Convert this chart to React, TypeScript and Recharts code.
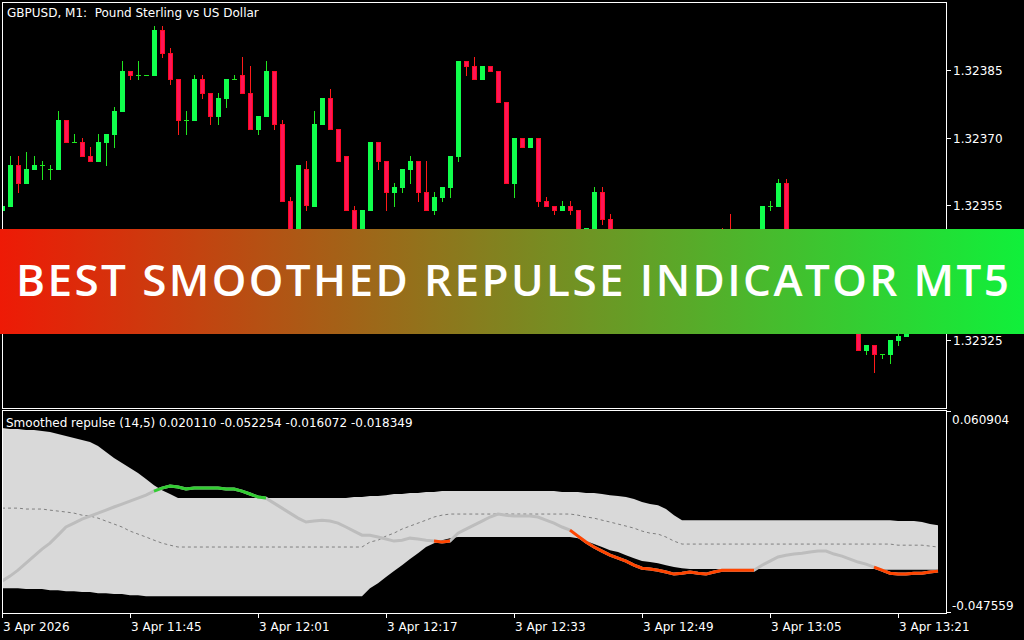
import { ComposedChart, Bar, Line, Area, XAxis, YAxis } from 'recharts';

// GBPUSD M1 bars, one per minute from the left edge of the chart
const OPEN = [
  1.32354, 1.32355, 1.32364, 1.3236, 1.32363, 1.32364, 1.32363, 1.32363, 1.32374, 1.32369,
  1.32369, 1.32366, 1.32365, 1.32369, 1.32371, 1.32376, 1.32385, 1.32384, 1.32384, 1.32384,
  1.32394, 1.32389, 1.32383, 1.32374, 1.32374, 1.32383, 1.3238, 1.32375, 1.32379, 1.32383,
  1.32384, 1.3238, 1.32372, 1.32375, 1.32385, 1.32373, 1.32356, 1.32342, 1.32363, 1.32355,
  1.32373, 1.32379, 1.32372, 1.32366, 1.32354, 1.32347, 1.32354, 1.32369, 1.32365, 1.32358,
  1.32359, 1.32363, 1.32365, 1.32358, 1.32354, 1.32357, 1.32359, 1.32366, 1.32387, 1.32386,
  1.32383, 1.32386, 1.32385, 1.32378, 1.3236, 1.3237, 1.32368, 1.3237, 1.32356, 1.32355,
  1.32354, 1.32355, 1.32354, 1.32344, 1.3235, 1.32358, 1.32352, 1.32345, 1.3234, 1.32337,
  1.32339, 1.32335, 1.32333, 1.32334, 1.32332, 1.32333, 1.32331, 1.32334, 1.32337, 1.32342,
  1.32344, 1.32341, 1.32338, 1.32342, 1.3234, 1.32345, 1.32355, 1.32355, 1.3236, 1.32343,
  1.32338, 1.3234, 1.32335, 1.32332, 1.32334, 1.3233, 1.32331, 1.32328, 1.32323, 1.32324,
  1.32322, 1.32322, 1.32325, 1.32326, 1.32328, 1.3233, 1.32329, 1.32331,
];
const HIGH = [
  1.32355, 1.32366, 1.32366, 1.32367, 1.32366, 1.32365, 1.32364, 1.32376, 1.32374, 1.32371,
  1.3237, 1.32368, 1.32371, 1.32371, 1.32377, 1.32387, 1.32385, 1.32387, 1.32384, 1.32395,
  1.32395, 1.3239, 1.32383, 1.32376, 1.32384, 1.32384, 1.3238, 1.3238, 1.32383, 1.32384,
  1.32388, 1.32386, 1.32375, 1.32387, 1.32385, 1.32374, 1.32357, 1.32364, 1.32365, 1.32376,
  1.32379, 1.32381, 1.32372, 1.32366, 1.32355, 1.32354, 1.32369, 1.32369, 1.32365, 1.3236,
  1.32363, 1.32366, 1.32365, 1.32365, 1.32358, 1.32359, 1.32366, 1.32387, 1.32387, 1.32388,
  1.32386, 1.32386, 1.32385, 1.32378, 1.3237, 1.3237, 1.3237, 1.3237, 1.32357, 1.32355,
  1.32356, 1.32356, 1.32354, 1.3235, 1.32359, 1.32359, 1.32353, 1.32346, 1.32341, 1.3234,
  1.32339, 1.32336, 1.32335, 1.32334, 1.32334, 1.32334, 1.32334, 1.32338, 1.32343, 1.32346,
  1.3235, 1.32353, 1.32343, 1.32344, 1.32346, 1.32355, 1.32356, 1.32361, 1.32361, 1.32345,
  1.32341, 1.32342, 1.32336, 1.32335, 1.32334, 1.32332, 1.32332, 1.32329, 1.32324, 1.32324,
  1.32322, 1.32325, 1.32327, 1.32328, 1.32331, 1.32331, 1.32332, 1.32331,
];
const LOW = [
  1.32353, 1.32355, 1.32358, 1.3236, 1.32363, 1.32361, 1.32361, 1.32363, 1.32369, 1.32369,
  1.32366, 1.32365, 1.32365, 1.32364, 1.32368, 1.32376, 1.32383, 1.32383, 1.32384, 1.32384,
  1.32388, 1.32382, 1.32371, 1.32371, 1.32374, 1.32379, 1.32373, 1.32373, 1.32377, 1.32383,
  1.3238, 1.32372, 1.32371, 1.32375, 1.32372, 1.32356, 1.32344, 1.32341, 1.32354, 1.32355,
  1.32373, 1.32372, 1.32365, 1.32354, 1.32346, 1.32346, 1.32354, 1.32363, 1.32354, 1.32355,
  1.32358, 1.3236, 1.32356, 1.32354, 1.32353, 1.32356, 1.32357, 1.32365, 1.32384, 1.32383,
  1.32383, 1.32385, 1.32378, 1.3236, 1.32357, 1.32368, 1.32368, 1.32355, 1.32355, 1.32353,
  1.32354, 1.32353, 1.32347, 1.32343, 1.32349, 1.32351, 1.32344, 1.32339, 1.32336, 1.32336,
  1.32334, 1.32332, 1.32332, 1.32331, 1.32331, 1.3233, 1.3233, 1.32333, 1.32336, 1.32341,
  1.3234, 1.32337, 1.32337, 1.32339, 1.32339, 1.32344, 1.32354, 1.32355, 1.32342, 1.32337,
  1.32336, 1.32334, 1.32331, 1.3233, 1.32329, 1.32329, 1.32328, 1.32323, 1.32322, 1.32318,
  1.32321, 1.3232, 1.32324, 1.32326, 1.32327, 1.32328, 1.32328, 1.32329,
];
const CLOSE = [
  1.32355, 1.32364, 1.3236, 1.32363, 1.32364, 1.32364, 1.32363, 1.32374, 1.32369, 1.32369,
  1.32366, 1.32365, 1.32369, 1.32371, 1.32376, 1.32385, 1.32384, 1.32384, 1.32384, 1.32394,
  1.32389, 1.32383, 1.32374, 1.32374, 1.32383, 1.3238, 1.32375, 1.32379, 1.32383, 1.32383,
  1.3238, 1.32372, 1.32375, 1.32385, 1.32373, 1.32356, 1.32345, 1.32364, 1.32355, 1.32373,
  1.32379, 1.32372, 1.32365, 1.32354, 1.32347, 1.32354, 1.32369, 1.32365, 1.32358, 1.32359,
  1.32363, 1.32365, 1.32358, 1.32354, 1.32357, 1.32359, 1.32366, 1.32387, 1.32386, 1.32383,
  1.32386, 1.32385, 1.32378, 1.3236, 1.3237, 1.32368, 1.3237, 1.32356, 1.32355, 1.32354,
  1.32355, 1.32354, 1.32348, 1.3235, 1.32358, 1.32352, 1.32345, 1.3234, 1.32337, 1.32339,
  1.32335, 1.32333, 1.32334, 1.32332, 1.32333, 1.32331, 1.32334, 1.32337, 1.32342, 1.32344,
  1.32341, 1.32338, 1.32342, 1.3234, 1.32345, 1.32355, 1.32355, 1.3236, 1.32343, 1.32338,
  1.3234, 1.32335, 1.32332, 1.32334, 1.3233, 1.32331, 1.32328, 1.32323, 1.32324, 1.32322,
  1.32322, 1.32325, 1.32326, 1.32328, 1.3233, 1.32329, 1.32331, 1.3233,
];

// Smoothed repulse (14,5): main line, band edges and the dashed middle
const REP_LINE = [
  -0.0309, -0.0282, -0.025, -0.0212, -0.0174, -0.0136, -0.0104, -0.0061, -0.0017, 0.0004,
  0.0026, 0.0042, 0.0058, 0.0074, 0.0091, 0.0107, 0.0123, 0.0139, 0.0155, 0.0177,
  0.0193, 0.0204, 0.0199, 0.0188, 0.0193, 0.0193, 0.0193, 0.0193, 0.0188, 0.0188,
  0.0177, 0.0161, 0.0145, 0.0139, 0.0112, 0.0085, 0.0058, 0.0031, 0.001, 0.0015,
  0.002, 0.0015, 0.0004, -0.0017, -0.0039, -0.0061, -0.0061, -0.0071, -0.0082, -0.0093,
  -0.0088, -0.0077, -0.0082, -0.0088, -0.0093, -0.0098, -0.0093, -0.005, -0.0028, -0.0007,
  0.0015, 0.0037, 0.0053, 0.0047, 0.0042, 0.0042, 0.0042, 0.0037, 0.002, 0.0004,
  -0.0017, -0.0034, -0.0066, -0.0098, -0.0125, -0.0147, -0.0169, -0.0185, -0.0201, -0.0223,
  -0.0239, -0.0244, -0.025, -0.026, -0.0271, -0.0266, -0.026, -0.0266, -0.0271, -0.026,
  -0.025, -0.025, -0.025, -0.025, -0.025, -0.0223, -0.0201, -0.0179, -0.0169, -0.0163,
  -0.0158, -0.0152, -0.0147, -0.0147, -0.0163, -0.0174, -0.019, -0.0206, -0.0217, -0.0233,
  -0.025, -0.0266, -0.0271, -0.0271, -0.0266, -0.0266, -0.026, -0.0255,
];
const REP_UPPER = [
  0.0517, 0.0512, 0.0512, 0.0506, 0.0506, 0.0501, 0.0496, 0.0485, 0.0474, 0.0463,
  0.0452, 0.0442, 0.042, 0.0388, 0.0355, 0.0328, 0.0301, 0.0274, 0.0242, 0.0209,
  0.0182, 0.0161, 0.0139, 0.0139, 0.0139, 0.0139, 0.0139, 0.0139, 0.0139, 0.0139,
  0.0139, 0.0139, 0.0139, 0.0139, 0.0139, 0.0139, 0.0139, 0.0139, 0.0139, 0.0139,
  0.0139, 0.0139, 0.0139, 0.0139, 0.0145, 0.0145, 0.015, 0.015, 0.0155, 0.0161,
  0.0161, 0.0166, 0.0166, 0.0172, 0.0172, 0.0177, 0.0177, 0.0177, 0.0177, 0.0177,
  0.0177, 0.0177, 0.0177, 0.0177, 0.0177, 0.0177, 0.0177, 0.0177, 0.0177, 0.0177,
  0.0172, 0.0172, 0.0172, 0.0166, 0.0166, 0.0161, 0.0155, 0.015, 0.0145, 0.0134,
  0.0118, 0.0107, 0.0101, 0.008, 0.0047, 0.002, 0.002, 0.002, 0.002, 0.002,
  0.002, 0.002, 0.002, 0.002, 0.002, 0.002, 0.002, 0.002, 0.002, 0.002,
  0.002, 0.002, 0.002, 0.002, 0.002, 0.002, 0.002, 0.002, 0.002, 0.002,
  0.002, 0.002, 0.0015, 0.0015, 0.0015, 0.001, -0.0001, -0.0007,
];
const REP_LOWER = [
  -0.0347, -0.0347, -0.0347, -0.0352, -0.0352, -0.0352, -0.0358, -0.0358, -0.0363, -0.0363,
  -0.0368, -0.0368, -0.0374, -0.0374, -0.0379, -0.0379, -0.0385, -0.0385, -0.039, -0.039,
  -0.039, -0.039, -0.039, -0.039, -0.039, -0.039, -0.039, -0.039, -0.039, -0.039,
  -0.039, -0.039, -0.039, -0.039, -0.039, -0.039, -0.039, -0.039, -0.039, -0.039,
  -0.039, -0.039, -0.039, -0.039, -0.039, -0.039, -0.0347, -0.032, -0.0287, -0.0255,
  -0.0223, -0.019, -0.0158, -0.0125, -0.0104, -0.0088, -0.0077, -0.0071, -0.0071, -0.0071,
  -0.0071, -0.0071, -0.0071, -0.0071, -0.0071, -0.0071, -0.0071, -0.0071, -0.0071, -0.0071,
  -0.0071, -0.0071, -0.0077, -0.0093, -0.0109, -0.0125, -0.0142, -0.0152, -0.0169, -0.0185,
  -0.0201, -0.0206, -0.0212, -0.0223, -0.0233, -0.0239, -0.0244, -0.0244, -0.0244, -0.0244,
  -0.0244, -0.0244, -0.0244, -0.0244, -0.0244, -0.0244, -0.0244, -0.0244, -0.0244, -0.0244,
  -0.0244, -0.0244, -0.0244, -0.0244, -0.0244, -0.0244, -0.0244, -0.0244, -0.0244, -0.0244,
  -0.0247, -0.0247, -0.0247, -0.0247, -0.0247, -0.0247, -0.0247, -0.0247,
];
const REP_MID = [
  0.0085, 0.0085, 0.0085, 0.008, 0.008, 0.008, 0.0074, 0.0069, 0.0064, 0.0058,
  0.0047, 0.0042, 0.0031, 0.0015, -0.0001, -0.0017, -0.0039, -0.0055, -0.0071, -0.0088,
  -0.0104, -0.0115, -0.0125, -0.0125, -0.0125, -0.0125, -0.0125, -0.0125, -0.0125, -0.0125,
  -0.0125, -0.0125, -0.0125, -0.0125, -0.0125, -0.0125, -0.0125, -0.0125, -0.0125, -0.0125,
  -0.0125, -0.0125, -0.0125, -0.0125, -0.0125, -0.0125, -0.0098, -0.0088, -0.0066, -0.005,
  -0.0028, -0.0012, 0.0004, 0.002, 0.0037, 0.0047, 0.0053, 0.0053, 0.0053, 0.0053,
  0.0053, 0.0053, 0.0053, 0.0053, 0.0053, 0.0053, 0.0053, 0.0053, 0.0053, 0.0053,
  0.0053, 0.0053, 0.0047, 0.0037, 0.0031, 0.002, 0.001, -0.0001, -0.0012, -0.0023,
  -0.0039, -0.005, -0.0055, -0.0071, -0.0093, -0.0109, -0.0109, -0.0109, -0.0109, -0.0109,
  -0.0109, -0.0109, -0.0109, -0.0109, -0.0109, -0.0109, -0.0109, -0.0109, -0.0109, -0.0109,
  -0.0109, -0.0109, -0.0109, -0.0109, -0.0109, -0.0109, -0.0109, -0.0109, -0.0109, -0.0109,
  -0.0109, -0.0109, -0.0115, -0.0115, -0.0115, -0.0115, -0.012, -0.0125,
];

// bars where the line is painted green (above band) / orange-red (below band)
const GREEN_SPANS = [[19, 33]];
const RED_SPANS = [[54, 56], [71, 94], [109, 117]];

const PRICE_MIN = 1.3231;
const PRICE_MAX = 1.324;
// 1.32340 sits under the banner in the reference, so it is left out
const PRICE_TICKS = [1.32325, 1.32355, 1.3237, 1.32385];

const REP_MIN = -0.047559;
const REP_MAX = 0.060904;

const TIME_TICKS = [0, 16, 32, 48, 64, 80, 96, 112];
const TIME_LABELS = [
  '3 Apr 2026',
  '3 Apr 11:45',
  '3 Apr 12:01',
  '3 Apr 12:17',
  '3 Apr 12:33',
  '3 Apr 12:49',
  '3 Apr 13:05',
  '3 Apr 13:21',
];

const FONT = '"DejaVu Sans", sans-serif';
const BULL_BODY = '#10ff4c';
const BULL_WICK = '#20e620';
const BEAR_BODY = '#ff1457';
const BEAR_EDGE = '#ff0a24';
const BEAR_WICK = '#ff1a1a';

const candles = OPEN.map((o, i) => ({
  i,
  o,
  h: HIGH[i],
  l: LOW[i],
  c: CLOSE[i],
  range: [LOW[i], HIGH[i]],
}));

const inSpan = (spans: number[][], i: number) =>
  spans.some(([a, b]) => i >= a && i <= b);

const repulse = REP_LINE.map((v, i) => ({
  i,
  v,
  mid: REP_MID[i],
  band: [REP_LOWER[i], REP_UPPER[i]],
  up: inSpan(GREEN_SPANS, i) ? v : null,
  down: inSpan(RED_SPANS, i) ? v : null,
}));

function Candle(props: any) {
  const { x, y, width, height, payload } = props;
  const { o, h, l, c } = payload;
  const cx = Math.floor(x + width / 2);
  const k = h > l ? height / (h - l) : 0;
  const py = (v: number) => Math.round(y + (h - v) * k);
  const bull = c >= o;
  const wick = bull ? BULL_WICK : BEAR_WICK;
  const top = py(Math.max(o, c));
  const bot = py(Math.min(o, c));
  const hi = py(h);
  const lo = py(l);
  const bodyH = bot - top;

  return (
    <g shapeRendering="crispEdges">
      <rect x={cx} y={hi} width={1} height={Math.max(1, lo - hi + 1)} fill={wick} />
      {bodyH < 1 ? (
        <rect x={cx - 2} y={top} width={5} height={1} fill={wick} />
      ) : bull ? (
        <rect x={cx - 2} y={top} width={5} height={bodyH + 1} fill={BULL_BODY} />
      ) : (
        <>
          <rect x={cx - 2} y={top} width={5} height={bodyH + 1} fill={BEAR_EDGE} />
          {bodyH > 1 && (
            <rect x={cx - 1} y={top + 1} width={3} height={bodyH - 1} fill={BEAR_BODY} />
          )}
        </>
      )}
    </g>
  );
}

function PriceTick(props: any) {
  const { x, y, payload } = props;
  return (
    <g>
      <line x1={x + 4} x2={x + 9} y1={y} y2={y} stroke="#fff" shapeRendering="crispEdges" />
      <text x={x + 11} y={y + 4.5} fill="#fff" fontSize={12} fontFamily={FONT}>
        {Number(payload.value).toFixed(5)}
      </text>
    </g>
  );
}

function RepTick(props: any) {
  const { x, y, payload } = props;
  const atTop = Math.abs(payload.value - REP_MAX) < 1e-9;
  return (
    <g>
      <line x1={x + 4} x2={x + 9} y1={y} y2={y} stroke="#fff" shapeRendering="crispEdges" />
      <text x={x + 10} y={atTop ? y + 13 : y - 2} fill="#fff" fontSize={12} fontFamily={FONT}>
        {Number(payload.value).toFixed(6)}
      </text>
    </g>
  );
}

function TimeTick(props: any) {
  const { x, y, payload } = props;
  const label = TIME_LABELS[TIME_TICKS.indexOf(Number(payload.value))];
  const lx = Math.floor(x) + 0.5;
  return (
    <g>
      <line x1={lx} x2={lx} y1={y + 2} y2={y + 6} stroke="#fff" shapeRendering="crispEdges" />
      <text x={x + 1} y={y + 18.5} fill="#fff" fontSize={12} fontFamily={FONT}>
        {label}
      </text>
    </g>
  );
}

export default function App() {
  return (
    <div
      style={{
        position: 'absolute',
        left: 0,
        top: 0,
        width: 1024,
        height: 640,
        background: '#000',
        overflow: 'hidden',
        fontFamily: FONT,
      }}
    >
      <div style={{ position: 'absolute', left: 0, top: 0 }}>
        <ComposedChart
          width={1024}
          height={410}
          data={candles}
          margin={{ top: 3, right: 0, bottom: 2, left: -2 }}
        >
          <XAxis dataKey="i" type="category" scale="band" hide />
          <YAxis
            orientation="right"
            type="number"
            domain={[PRICE_MIN, PRICE_MAX]}
            allowDataOverflow
            ticks={PRICE_TICKS}
            interval={0}
            width={82}
            axisLine={false}
            tickLine={false}
            tickSize={0}
            tickMargin={0}
            tick={(p: any) => <PriceTick {...p} />}
          />
          <Bar
            dataKey="range"
            barSize={5}
            shape={(p: any) => <Candle {...p} />}
            isAnimationActive={false}
          />
        </ComposedChart>
      </div>

      <div style={{ position: 'absolute', left: 0, top: 409 }}>
        <ComposedChart
          width={1024}
          height={231}
          data={repulse}
          margin={{ top: 2, right: 0, bottom: 0, left: -2 }}
        >
          <XAxis
            dataKey="i"
            type="category"
            scale="band"
            ticks={TIME_TICKS}
            interval={0}
            height={28}
            axisLine={false}
            tickLine={false}
            tickSize={0}
            tickMargin={0}
            tick={(p: any) => <TimeTick {...p} />}
          />
          <YAxis
            orientation="right"
            type="number"
            domain={[REP_MIN, REP_MAX]}
            allowDataOverflow
            ticks={[REP_MAX, REP_MIN]}
            interval={0}
            width={82}
            axisLine={false}
            tickLine={false}
            tickSize={0}
            tickMargin={0}
            tick={(p: any) => <RepTick {...p} />}
          />
          <Area
            dataKey="band"
            type="linear"
            stroke="none"
            fill="#d9d9d9"
            fillOpacity={1}
            dot={false}
            activeDot={false}
            isAnimationActive={false}
          />
          <Line
            dataKey="mid"
            type="linear"
            stroke="#808080"
            strokeWidth={1}
            strokeDasharray="3 3"
            dot={false}
            activeDot={false}
            isAnimationActive={false}
          />
          <Line
            dataKey="v"
            type="linear"
            stroke="#bdbdbd"
            strokeWidth={3}
            dot={false}
            activeDot={false}
            isAnimationActive={false}
          />
          <Line
            dataKey="up"
            type="linear"
            stroke="#32cd32"
            strokeWidth={3}
            dot={false}
            activeDot={false}
            isAnimationActive={false}
          />
          <Line
            dataKey="down"
            type="linear"
            stroke="#ff4500"
            strokeWidth={3}
            dot={false}
            activeDot={false}
            isAnimationActive={false}
          />
        </ComposedChart>
      </div>

      {/* left edge mask and panel frames */}
      <div style={{ position: 'absolute', left: 0, top: 0, width: 2, height: 640, background: '#000' }} />
      <div
        style={{
          position: 'absolute',
          left: 2,
          top: 2,
          width: 945,
          height: 407,
          border: '1px solid #fff',
          boxSizing: 'border-box',
        }}
      />
      <div
        style={{
          position: 'absolute',
          left: 2,
          top: 410,
          width: 945,
          height: 204,
          border: '1px solid #fff',
          boxSizing: 'border-box',
        }}
      />

      <div
        style={{
          position: 'absolute',
          left: 7,
          top: 6,
          color: '#fff',
          fontSize: 12,
          lineHeight: '14px',
          whiteSpace: 'pre',
        }}
      >
        {'GBPUSD, M1:  Pound Sterling vs US Dollar'}
      </div>
      <div
        style={{
          position: 'absolute',
          left: 6,
          top: 416,
          color: '#fff',
          fontSize: 12,
          lineHeight: '14px',
          whiteSpace: 'pre',
        }}
      >
        {'Smoothed repulse (14,5) 0.020110 -0.052254 -0.016072 -0.018349'}
      </div>

      <div style={{ position: 'absolute', left: 0, top: 229, width: 1024, height: 105 }}>
        <svg width={1024} height={105}>
          <defs>
            <linearGradient id="bannerFill" x1="0" y1="0" x2="1" y2="0">
              <stop offset="0" stopColor="#ee1a06" />
              <stop offset="1" stopColor="#10f03a" />
            </linearGradient>
          </defs>
          <rect x={0} y={0} width={1024} height={105} fill="url(#bannerFill)" />
          <text
            x={16}
            y={66.5}
            fill="#fff"
            fontSize={44}
            fontWeight={600}
            fontFamily='"Open Sans", sans-serif'
            textLength={993}
            lengthAdjust="spacing"
          >
            BEST SMOOTHED REPULSE INDICATOR MT5
          </text>
        </svg>
      </div>
    </div>
  );
}
